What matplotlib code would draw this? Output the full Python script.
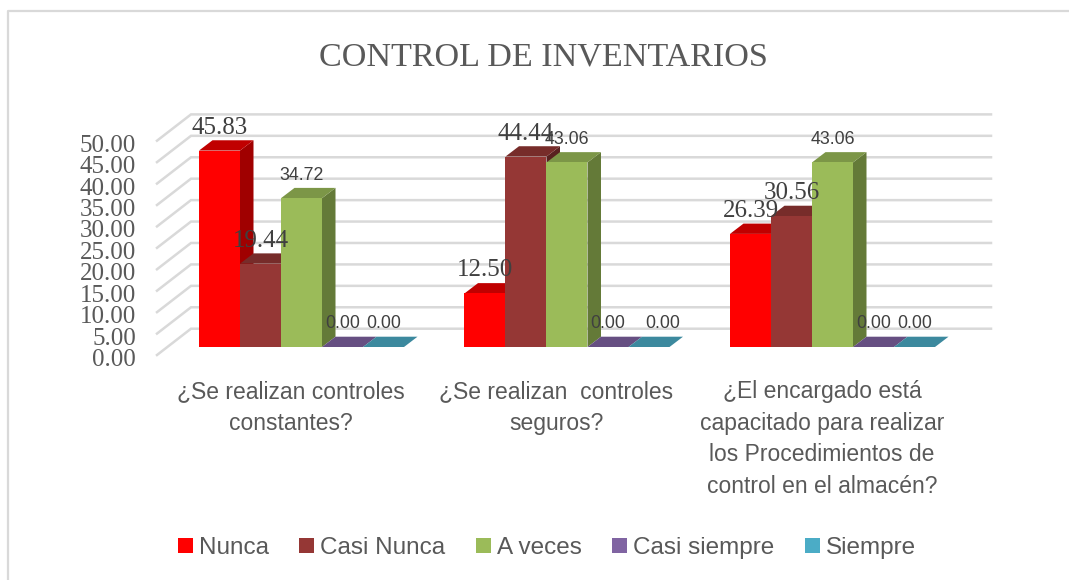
import matplotlib
matplotlib.use("Agg")
import matplotlib.pyplot as plt
from matplotlib.patches import Patch, Polygon

CATEGORIES = [
    "¿Se realizan controles\nconstantes?",
    "¿Se realizan  controles\nseguros?",
    "¿El encargado está\ncapacitado para realizar\nlos Procedimientos de\ncontrol en el almacén?",
]
SERIES = ["Nunca", "Casi Nunca", "A veces", "Casi siempre", "Siempre"]
NUNCA = [45.83, 12.50, 26.39]
CASI_NUNCA = [19.44, 44.44, 30.56]
A_VECES = [34.72, 43.06, 43.06]
CASI_SIEMPRE = [0.00, 0.00, 0.00]
SIEMPRE = [0.00, 0.00, 0.00]
Y_TICKS = [0, 5, 10, 15, 20, 25, 30, 35, 40, 45, 50]

FRONT = ["#ff0000", "#953735", "#9bbb59", "#8064a2", "#4bacc6"]
TOPS = ["#c00000", "#772c2a", "#7c9647", "#664f82", "#3c899e"]
SIDES = ["#a00000", "#592120", "#647a38", "#4c3c61", "#2d6776"]
LABEL_SERIF = [True, True, False, False, False]

W, H = 1069, 580
PX_X = 265.5    # pixels per category
PX_Y = 4.286    # pixels per unit of value
BAR_PX = 41
BASE_X, BASE_Y = 301.5, 347

SERIF = "Liberation Serif"
SANS = "Liberation Sans"
GREY = "#595959"


def dx(px):
    return px / PX_X


def dy(px):
    return px / PX_Y


fig = plt.figure(figsize=(W / 100, H / 100), dpi=100)
ax = fig.add_axes([0, 0, 1, 1])
ax.set_xlim(-BASE_X / PX_X, (W - BASE_X) / PX_X)
ax.set_ylim(-(H - BASE_Y) / PX_Y, BASE_Y / PX_Y)
ax.axis("off")

# chart frame, only left and top show in the crop
ax.plot([dx(8 - BASE_X), dx(8 - BASE_X), dx(W - BASE_X)],
        [-60, dy(BASE_Y - 11), dy(BASE_Y - 11)], color="#d9d9d9", lw=1.6, zorder=1)

# wall gridlines
wall_left = dx(191 - BASE_X)
wall_right = dx(991 - BASE_X)
wall_y0 = dy(347 - 328.7)
front_x = dx(157 - BASE_X)
front_y0 = dy(347 - 355)
for v in Y_TICKS:
    ax.plot([front_x, wall_left, wall_right], [front_y0 + v, wall_y0 + v, wall_y0 + v],
            color="#d9d9d9", lw=1.8, zorder=2, solid_joinstyle="miter")
    ax.text(dx(136 - BASE_X), front_y0 + v - dy(5), f"{v:.2f}", ha="right", va="center",
            family=SERIF, fontsize=18, color=GREY, zorder=6)

# 3d bars, each group is drawn left to right so later faces cover earlier ones
values = [NUNCA, CASI_NUNCA, A_VECES, CASI_SIEMPRE, SIEMPRE]
bar_w = dx(BAR_PX)
depth_x, depth_y = dx(13.5), dy(10.3)
for i in range(len(CATEGORIES)):
    for s, vals in enumerate(values):
        v = vals[i]
        x0 = i + (s - 2.5) * bar_w
        x1 = x0 + bar_w
        z = 3 + s * 0.1
        ax.add_patch(Polygon([(x1, 0), (x1 + depth_x, depth_y), (x1 + depth_x, v + depth_y), (x1, v)],
                             facecolor=SIDES[s], edgecolor="none", zorder=z))
        ax.add_patch(Polygon([(x0, v), (x0 + depth_x, v + depth_y), (x1 + depth_x, v + depth_y), (x1, v)],
                             facecolor=TOPS[s], edgecolor="none", zorder=z))
        ax.bar(x0, v, width=bar_w, align="edge", color=FRONT[s], zorder=z)
        if LABEL_SERIF[s]:
            font, size = SERIF, 18
        else:
            font, size = SANS, 12.8
        # the Siempre label of the middle group sits further right in the original
        nudge = dx(14) if (i == 1 and s == 4) else 0
        ax.text(x0 + bar_w / 2 + nudge, v + dy(23), f"{v:.2f}", ha="center", va="center",
                family=font, fontsize=size, color="#404040", zorder=5)

# category labels
for i, label in enumerate(CATEGORIES):
    ax.text(i - dx(10.5), dy(347 - 380), label, ha="center", va="top", family=SANS, fontsize=16.5,
            color=GREY, linespacing=1.48)

ax.text(dx(543 - BASE_X), dy(347 - 57), "CONTROL DE INVENTARIOS", ha="center", va="center",
        family=SERIF, fontsize=24.6, color=GREY)

handles = [Patch(facecolor=c, label=s) for c, s in zip(FRONT, SERIES)]
ax.legend(handles=handles, ncol=5, loc="center", bbox_to_anchor=(547 / W, 1 - 548 / H), frameon=False,
          prop={"family": SANS, "size": 17.5}, labelcolor=GREY, handlelength=0.62, handleheight=0.62,
          handletextpad=0.25, columnspacing=1.25, borderpad=0)

fig.savefig("out.png", dpi=100)
